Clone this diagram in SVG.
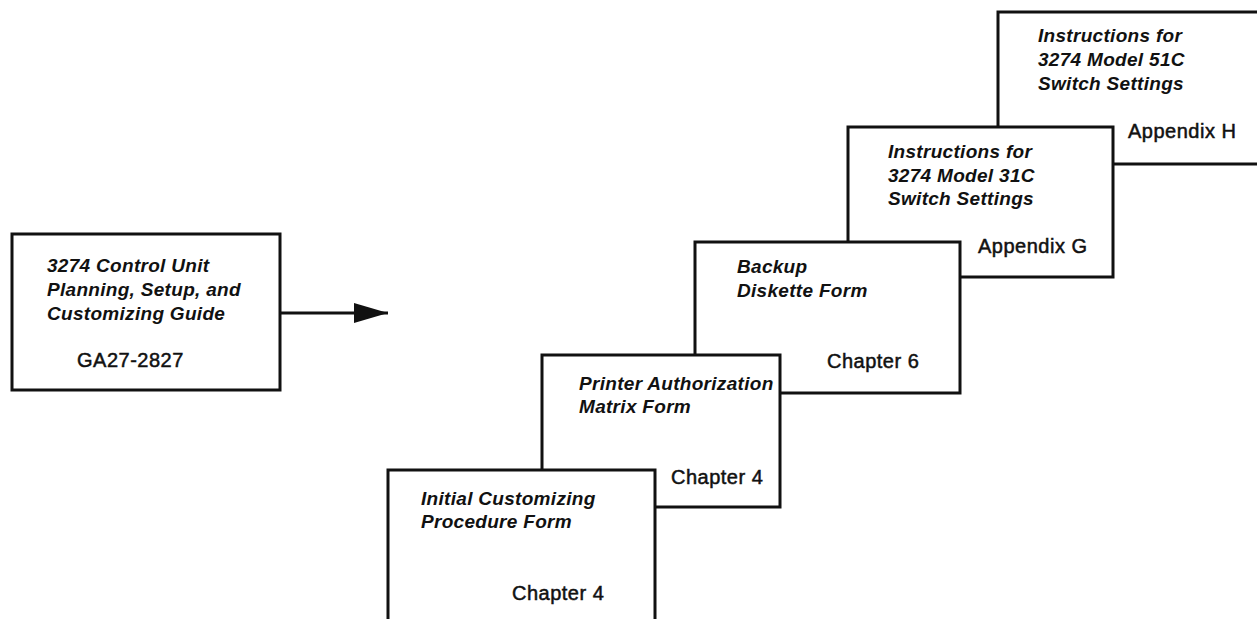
<svg xmlns="http://www.w3.org/2000/svg" width="1257" height="619" viewBox="0 0 1257 619">
<defs>
<style>
.box{fill:#fff;stroke:#111;stroke-width:3}
.t{font-family:"Liberation Sans",Arial,sans-serif;font-size:19px;font-weight:bold;font-style:italic;fill:#111;letter-spacing:0.3px}
.c{font-family:"Liberation Sans",Arial,sans-serif;font-size:20px;fill:#111;stroke:#111;stroke-width:0.5;letter-spacing:0.5px}
</style>
<marker id="ah" markerWidth="34" markerHeight="22" refX="34" refY="11" orient="auto" markerUnits="userSpaceOnUse">
<path d="M0,1 L34,11 L0,21 Z" fill="#111"/>
</marker>
</defs>
<rect width="1257" height="619" fill="#fff"/>
<g id="node-guide">
<rect class="box" x="12" y="234" width="268" height="156"/>
<text class="t" x="47" y="272">3274 Control Unit</text>
<text class="t" x="47" y="296">Planning, Setup, and</text>
<text class="t" x="47" y="320">Customizing Guide</text>
<text class="c" x="77" y="367">GA27-2827</text>
</g>
<g id="connectors">
<line x1="280" y1="313" x2="388" y2="313" stroke="#111" stroke-width="3" marker-end="url(#ah)"/>
</g>
<g id="node-51c">
<rect class="box" x="998" y="12" width="275" height="152"/>
<text class="t" x="1038" y="42">Instructions for</text>
<text class="t" x="1038" y="66">3274 Model 51C</text>
<text class="t" x="1038" y="90">Switch Settings</text>
<text class="c" x="1128" y="138">Appendix H</text>
</g>
<g id="node-31c">
<rect class="box" x="848" y="127" width="265" height="150"/>
<text class="t" x="888" y="158">Instructions for</text>
<text class="t" x="888" y="182">3274 Model 31C</text>
<text class="t" x="888" y="205">Switch Settings</text>
<text class="c" x="978" y="253">Appendix G</text>
</g>
<g id="node-backup">
<rect class="box" x="695" y="242" width="265" height="151"/>
<text class="t" x="737" y="273">Backup</text>
<text class="t" x="737" y="297">Diskette Form</text>
<text class="c" x="827" y="368">Chapter 6</text>
</g>
<g id="node-printer">
<rect class="box" x="542" y="355" width="238" height="152"/>
<text class="t" x="579" y="390">Printer Authorization</text>
<text class="t" x="579" y="413">Matrix Form</text>
<text class="c" x="671" y="484">Chapter 4</text>
</g>
<g id="node-initial">
<rect class="box" x="388" y="470" width="267" height="170"/>
<text class="t" x="421" y="505">Initial Customizing</text>
<text class="t" x="421" y="528">Procedure Form</text>
<text class="c" x="512" y="600">Chapter 4</text>
</g>
</svg>
